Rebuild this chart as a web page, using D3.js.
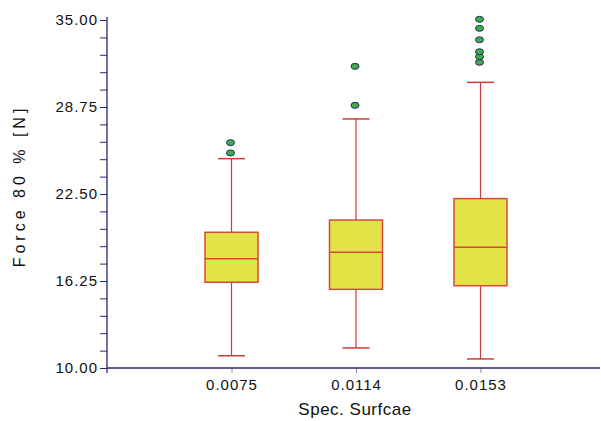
<!DOCTYPE html>
<html>
<head>
<meta charset="utf-8">
<script src="https://cdn.jsdelivr.net/npm/d3@7"></script>
<style>
    body { margin: 0; background: #fff; }
    text { font-family: Arial, "Liberation Sans", sans-serif; fill: #111; }
</style>
</head>
<body>
<svg id="chart" width="601" height="421"></svg>
<script>
// data
var categories = ["0.0075", "0.0114", "0.0153"];
var lowWhisker = [10.88, 11.44, 10.65];
var q1 = [16.16, 15.65, 15.91];
var medians = [17.85, 18.31, 18.67];
var q3 = [19.75, 20.63, 22.17];
var highWhisker = [25.04, 27.89, 30.52];
var outliers = [
    [25.45, 26.19],
    [28.87, 31.67],
    [31.96, 32.36, 32.72, 33.58, 34.40, 35.05]
];
var majorTicks = [10, 16.25, 22.5, 28.75, 35];

var svg = d3.select("#chart");

var plotLeft = 107, plotRight = 605, plotTop = 20, plotBottom = 368;
var boxWidth = 53, capWidth = 27;
var axisColor = "#2b2a6b";
var redLine = "#cc3c3c";

var x = d3.scalePoint()
    .domain(categories)
    .range([plotLeft, plotRight])
    .padding(1);

var y = d3.scaleLinear()
    .domain([10, 35])
    .range([plotBottom, plotTop]);

var allTicks = d3.range(0, 21).map(function (i) { return 10 + i * 1.25; });

var yAxis = d3.axisLeft(y)
    .tickValues(allTicks)
    .tickSize(7)
    .tickPadding(2)
    .tickFormat(function (d) {
        return majorTicks.indexOf(d) >= 0 ? d3.format(".2f")(d) : "";
    });

var gy = svg.append("g")
    .attr("transform", "translate(" + plotLeft + ",0)")
    .call(yAxis);
gy.select(".domain").remove();
gy.selectAll("line").attr("stroke", axisColor);
gy.selectAll("text")
    .attr("font-size", "15px")
    .attr("letter-spacing", "1px")
    .attr("fill", "#111");

svg.append("line")
    .attr("x1", plotLeft).attr("x2", plotLeft)
    .attr("y1", plotTop - 3).attr("y2", plotBottom + 5)
    .attr("stroke", axisColor)
    .attr("stroke-width", 1.3);

var xAxis = d3.axisBottom(x).tickSize(5).tickPadding(6);
var gx = svg.append("g")
    .attr("transform", "translate(0," + plotBottom + ")")
    .call(xAxis);
gx.select(".domain").remove();
gx.selectAll("line").attr("stroke", "#8888aa");
gx.selectAll("text")
    .attr("font-size", "15px")
    .attr("letter-spacing", "1px")
    .attr("fill", "#111");

svg.append("line")
    .attr("x1", plotLeft).attr("x2", 600)
    .attr("y1", plotBottom).attr("y2", plotBottom)
    .attr("stroke", axisColor)
    .attr("stroke-width", 1.3);

// boxes
var groups = svg.selectAll("g.box")
    .data(categories)
    .enter()
    .append("g")
    .attr("class", "box");

groups.append("line")
    .attr("x1", function (d) { return x(d); })
    .attr("x2", function (d) { return x(d); })
    .attr("y1", function (d, i) { return y(lowWhisker[i]); })
    .attr("y2", function (d, i) { return y(highWhisker[i]); })
    .attr("stroke", redLine)
    .attr("stroke-width", 1.2);

[lowWhisker, highWhisker].forEach(function (arr) {
    groups.append("line")
        .attr("x1", function (d) { return x(d) - capWidth / 2; })
        .attr("x2", function (d) { return x(d) + capWidth / 2; })
        .attr("y1", function (d, i) { return y(arr[i]); })
        .attr("y2", function (d, i) { return y(arr[i]); })
        .attr("stroke", redLine)
        .attr("stroke-width", 1.5);
});

groups.append("rect")
    .attr("x", function (d) { return x(d) - boxWidth / 2; })
    .attr("y", function (d, i) { return y(q3[i]); })
    .attr("width", boxWidth)
    .attr("height", function (d, i) { return y(q1[i]) - y(q3[i]); })
    .attr("fill", "#e3e348")
    .attr("stroke", "#d8483c")
    .attr("stroke-width", 1.5);

groups.append("line")
    .attr("x1", function (d) { return x(d) - boxWidth / 2; })
    .attr("x2", function (d) { return x(d) + boxWidth / 2; })
    .attr("y1", function (d, i) { return y(medians[i]); })
    .attr("y2", function (d, i) { return y(medians[i]); })
    .attr("stroke", "#d8483c")
    .attr("stroke-width", 1.5);

groups.each(function (d, i) {
    d3.select(this).selectAll("ellipse")
        .data(outliers[i])
        .enter()
        .append("ellipse")
        .attr("cx", x(d) - 1)
        .attr("cy", function (v) { return y(v); })
        .attr("rx", 4)
        .attr("ry", 3)
        .attr("fill", "#3fae4a")
        .attr("stroke", "#1f2f5a")
        .attr("stroke-width", 1);
});

// titles
svg.append("text")
    .attr("x", 355)
    .attr("y", 415)
    .attr("text-anchor", "middle")
    .attr("font-size", "17px")
    .attr("letter-spacing", "0.5px")
    .text("Spec. Surfcae");

svg.append("text")
    .attr("transform", "translate(25,186) rotate(-90)")
    .attr("text-anchor", "middle")
    .attr("font-size", "16px")
    .attr("letter-spacing", "4px")
    .text("Force 80 % [N]");
</script>
</body>
</html>
